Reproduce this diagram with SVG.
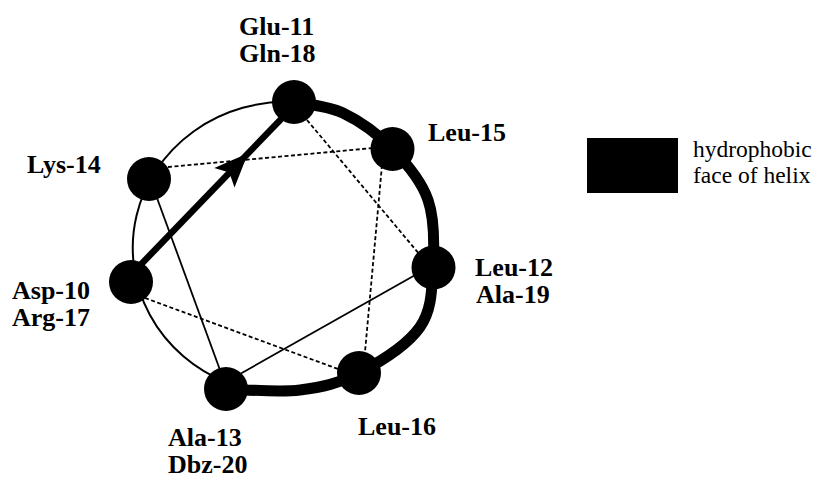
<svg xmlns="http://www.w3.org/2000/svg" width="813" height="478" viewBox="0 0 813 478">
<style>
.lbl{font-family:"Liberation Serif","Times New Roman",serif;font-weight:bold;font-size:26px;fill:#000}
.leg{font-family:"Liberation Serif","Times New Roman",serif;font-size:23.5px;fill:#000}
.node{fill:#000}
.solid{stroke:#000;stroke-width:1.8;fill:none}
.dash{stroke:#000;stroke-width:1.8;fill:none;stroke-dasharray:4 2.5}
</style>
<rect width="813" height="478" fill="#fff"/>
<g id="wheel">
<path d="M294,102 A153.5,146 0 0,0 227,382.5" stroke="#000" stroke-width="2" fill="none"/>
<path d="M294,102 C302.2,103.8 326.6,105.2 343,113 C359.4,120.8 378.3,134.5 392.5,149 C406.7,163.5 421.3,180.3 428,200 C434.8,219.7 434.3,245.8 433,267 C431.7,288.2 432.3,309.3 420,327 C407.7,344.7 379,362.5 359,373 C339,383.5 322,387.3 300,390 C278,392.7 239.2,389.2 227,389" stroke="#000" stroke-width="11" fill="none" stroke-linecap="round"/>
</g>
<g id="connectors">
<line class="dash" x1="168" y1="167" x2="373" y2="148"/>
<line class="dash" x1="307" y1="120" x2="420" y2="255"/>
<line class="dash" x1="382" y1="165" x2="365" y2="352"/>
<line class="dash" x1="145" y1="298" x2="338" y2="369"/>
<line class="solid" x1="157" y1="198" x2="220" y2="370"/>
<line class="solid" x1="240" y1="374" x2="417" y2="274"/>
<line x1="138" y1="267.5" x2="285" y2="115" stroke="#000" stroke-width="6.5"/>
<polygon points="248,153.2 214.3,168 229.3,172.6 234.5,187.4" fill="#000"/>
</g>
<g id="n-glu11"><circle class="node" cx="294" cy="102" r="22"/><text class="lbl" x="239" y="35">Glu-11</text><text class="lbl" x="239" y="62">Gln-18</text></g>
<g id="n-leu15"><circle class="node" cx="392.5" cy="149" r="22"/><text class="lbl" x="428" y="141">Leu-15</text></g>
<g id="n-lys14"><circle class="node" cx="149" cy="179" r="22"/><text class="lbl" x="27" y="173">Lys-14</text></g>
<g id="n-asp10"><circle class="node" cx="131" cy="282" r="22"/><text class="lbl" x="12" y="299">Asp-10</text><text class="lbl" x="12" y="326">Arg-17</text></g>
<g id="n-leu12"><circle class="node" cx="433.5" cy="267.5" r="22"/><text class="lbl" x="475" y="276">Leu-12</text><text class="lbl" x="476" y="303">Ala-19</text></g>
<g id="n-leu16"><circle class="node" cx="359" cy="373" r="22"/><text class="lbl" x="358" y="435">Leu-16</text></g>
<g id="n-ala13"><circle class="node" cx="226" cy="389" r="22"/><text class="lbl" x="168" y="446">Ala-13</text><text class="lbl" x="168" y="473">Dbz-20</text></g>
<g id="legend"><rect x="587" y="138" width="91" height="55" fill="#000"/><text class="leg" x="693" y="157">hydrophobic</text><text class="leg" x="693" y="183">face of helix</text></g>
</svg>
